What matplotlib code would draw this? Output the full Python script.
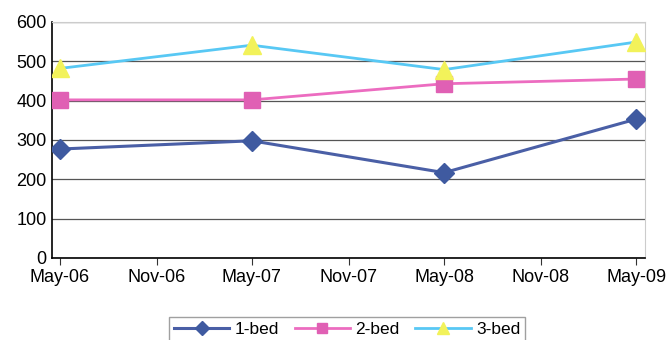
import numpy as np
import pandas as pd
import matplotlib
matplotlib.use("Agg")
import matplotlib.pyplot as plt
import matplotlib.dates as mdates

plt.rcParams['font.family'] = ['Liberation Sans', 'DejaVu Sans']

# Data
dates = pd.to_datetime(['2006-05-01', '2007-05-01', '2008-05-01', '2009-05-01'])
one_bed = [277, 298, 217, 353]
two_bed = [402, 402, 443, 455]
three_bed = [482, 541, 479, 549]
tick_dates = pd.to_datetime(['2006-05-01', '2006-11-01', '2007-05-01', '2007-11-01',
                             '2008-05-01', '2008-11-01', '2009-05-01'])
tick_labels = ['May-06', 'Nov-06', 'May-07', 'Nov-07', 'May-08', 'Nov-08', 'May-09']

fig = plt.figure(figsize=(6.72, 3.4), dpi=100)
ax = fig.add_axes([52 / 672, 1 - 258 / 340, (645 - 52) / 672, (258 - 22) / 340])

ax.plot(dates, one_bed, color='#4a5fa6', lw=2.2, marker='D', ms=10,
        mfc='#3f5aa0', mec='#3f5aa0', label='1-bed', zorder=3)
ax.plot(dates, two_bed, color='#ec6cc0', lw=2.0, marker='s', ms=11,
        mfc='#e060b4', mec='#e060b4', label='2-bed', zorder=3)
ax.plot(dates, three_bed, color='#58c8f4', lw=2.0, marker='^', ms=13,
        mfc='#f2f25a', mec='#f2f25a', label='3-bed', zorder=4)

ax.set_ylim(0, 600)
ax.set_yticks(np.arange(0, 601, 100))
ax.set_xlim(pd.Timestamp('2006-04-16'), pd.Timestamp('2009-05-18'))
ax.set_xticks(tick_dates)
ax.set_xticklabels(tick_labels)

ax.grid(axis='y', color='#555555', lw=0.9)
ax.set_axisbelow(True)
for s in ['top', 'right']:
    ax.spines[s].set_color('#cccccc')
ax.spines['left'].set_color('black')
ax.spines['bottom'].set_color('black')
ax.spines['left'].set_linewidth(1.2)
ax.spines['bottom'].set_linewidth(1.2)
ax.tick_params(axis='both', labelsize=13, length=5, color='#333333')
ax.tick_params(axis='y', length=0, pad=4)
ax.tick_params(axis='x', pad=3)

leg = fig.legend(loc='center', bbox_to_anchor=(347 / 672, 1 - 329 / 340), ncol=3,
                 fontsize=12.5, frameon=True, fancybox=False, edgecolor='#888888',
                 handlelength=3.2, handletextpad=0.3, columnspacing=0.9,
                 borderpad=0.25, markerscale=0.7)
leg.get_frame().set_linewidth(1.0)

fig.savefig('out.png', dpi=100)
